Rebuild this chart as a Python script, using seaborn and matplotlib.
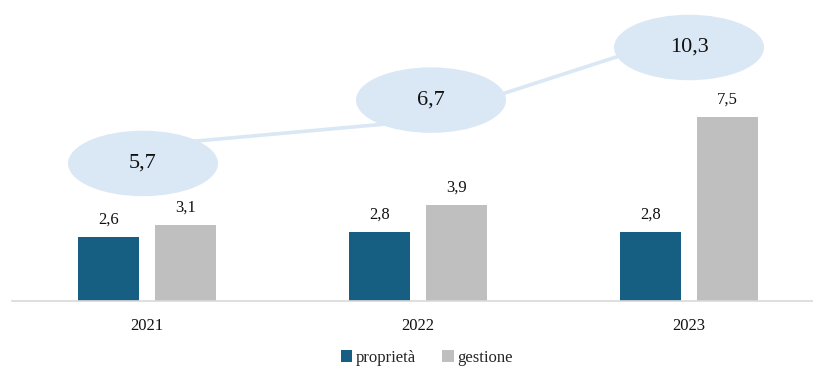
import matplotlib
matplotlib.use("Agg")
import matplotlib.pyplot as plt
import matplotlib.transforms as mtransforms
from matplotlib.patches import Ellipse, Patch
import seaborn as sns
import pandas as pd

# ---- data ----
anni = ["2021", "2022", "2023"]
serie = ["proprietà", "gestione"]
proprieta = [2.6, 2.8, 2.8]
gestione = [3.1, 3.9, 7.5]
totale = [5.7, 6.7, 10.3]

# ---- style ----
sns.set_theme(style="white")
plt.rcParams["font.family"] = ["Liberation Serif", "DejaVu Serif"]

col_prop = "#165F82"
col_gest = "#BFBFBF"
col_tot = "#DAE7F5"

df = pd.DataFrame({
    "anno": anni * 2,
    "serie": [serie[0]] * len(anni) + [serie[1]] * len(anni),
    "valore": proprieta + gestione,
})

fig = plt.figure(figsize=(8.13, 3.68), dpi=100)
ax = fig.add_axes([11.5 / 813, 67 / 368, 1.0, 296 / 368])

sns.barplot(data=df, x="anno", y="valore", hue="serie", order=anni,
            hue_order=serie, palette={serie[0]: col_prop, serie[1]: col_gest},
            saturation=1, width=0.57, gap=0.21, edgecolor="none", linewidth=0,
            legend=False, ax=ax)

fmt = lambda v: f"{v:.1f}".replace(".", ",")
for cont in ax.containers:
    ax.bar_label(cont, labels=[fmt(b.get_height()) for b in cont],
                 padding=7, fontsize=12, color="#111111")

ax.set_xlim(-0.5, 2.5)
ax.set_ylim(0, 12.07)
ax.set_xlabel("")
ax.set_ylabel("")
ax.set_yticks([])
ax.tick_params(axis="x", length=0, pad=12, labelsize=12, colors="#111111")
for s in ["top", "right", "left"]:
    ax.spines[s].set_visible(False)
ax.spines["bottom"].set_color("#D9D9D9")
ax.spines["bottom"].set_linewidth(1.2)

# ---- totals line on secondary axis ----
ax2 = ax.twinx()
sns.lineplot(x=[0, 1, 2], y=totale, ax=ax2, color=col_tot, linewidth=2.6,
             zorder=2)
ax2.set_ylim(-0.69, 11.47)
ax2.set_yticks([])
for s in ax2.spines.values():
    s.set_visible(False)
ax2.set_xlim(-0.5, 2.5)

# ellipse callouts (offsets in pixels: right, down)
offsets = [(-4, 18), (13, -21), (0, 14)]
for i, (v, (dx, dy)) in enumerate(zip(totale, offsets)):
    trans = fig.dpi_scale_trans + mtransforms.ScaledTranslation(i, v, ax2.transData)
    e = Ellipse((dx / 100, -dy / 100), 1.50, 0.655, transform=trans,
                facecolor=col_tot, edgecolor="none", zorder=3, clip_on=False)
    ax2.add_artist(e)
    ax2.annotate(fmt(v), xy=(i, v), xytext=(dx, -dy), textcoords="offset pixels",
                 ha="center", va="center", fontsize=16, color="#111111",
                 zorder=4, annotation_clip=False)

handles = [Patch(facecolor=col_prop, edgecolor="none"),
           Patch(facecolor=col_gest, edgecolor="none")]
fig.legend(handles, serie, loc="center", bbox_to_anchor=(0.525, 1 - 358 / 368),
           ncol=2, frameon=False, fontsize=12, handlelength=0.7,
           handleheight=0.7, handletextpad=0.2, columnspacing=1.6)

fig.savefig("out.png", dpi=100)
